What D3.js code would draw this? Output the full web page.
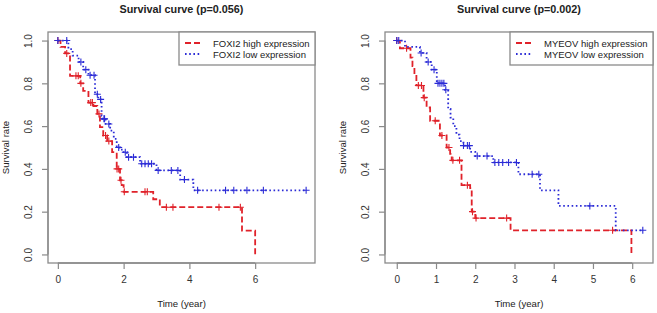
<!DOCTYPE html>
<html>
<head>
<meta charset="utf-8">
<script src="https://cdn.jsdelivr.net/npm/d3@7"></script>
<style>
  body { margin: 0; background: #fff; }
  svg { font-family: "Liberation Sans", Arial, sans-serif; }
</style>
</head>
<body>
<div id="chart"></div>
<script>
// FOXI2 panel
const foxHighT = [0, 0.08, 0.22, 0.37, 0.68, 0.77, 0.93, 1.08, 1.2, 1.28, 1.38, 1.5, 1.65, 1.79, 1.89, 1.94, 2.0, 2.9, 3.1, 5.6, 6.0];
const foxHighS = [1, 0.97, 0.94, 0.835, 0.80, 0.765, 0.71, 0.694, 0.657, 0.595, 0.556, 0.53, 0.478, 0.40, 0.347, 0.324, 0.293, 0.258, 0.221, 0.111, 0];
const foxHighCens = [0.0, 0.27, 0.55, 0.62, 0.7, 1.0, 1.05, 1.25, 1.45, 1.55, 1.8, 1.85, 1.92, 2.02, 2.65, 2.72, 3.3, 3.5, 4.9, 5.55];

const foxLowT = [0, 0.32, 0.45, 0.63, 0.77, 0.93, 1.13, 1.23, 1.33, 1.36, 1.45, 1.59, 1.7, 1.79, 1.9, 2.0, 2.1, 2.5, 3.0, 3.72, 4.12];
const foxLowS = [1, 0.96, 0.93, 0.90, 0.864, 0.838, 0.749, 0.725, 0.648, 0.634, 0.61, 0.579, 0.54, 0.50, 0.49, 0.478, 0.455, 0.424, 0.393, 0.35, 0.30];
const foxLowCens = [0.0, 0.27, 0.7, 0.85, 0.98, 1.1, 1.2, 1.3, 1.4, 1.42, 1.55, 1.85, 2.05, 2.15, 2.3, 2.55, 2.65, 2.75, 2.85, 3.05, 3.45, 3.65, 3.85, 4.25, 5.1, 5.35, 5.75, 6.25, 7.55];

// MYEOV panel
const myHighT = [0, 0.08, 0.35, 0.4, 0.45, 0.5, 0.68, 0.76, 0.85, 1.1, 1.27, 1.36, 1.4, 1.65, 1.87, 1.91, 2.0, 2.9, 5.98];
const myHighS = [1, 0.964, 0.92, 0.88, 0.84, 0.79, 0.733, 0.687, 0.625, 0.556, 0.50, 0.47, 0.44, 0.324, 0.31, 0.20, 0.17, 0.113, 0];
const myHighCens = [0.0, 0.25, 0.55, 0.63, 0.7, 0.98, 1.15, 1.33, 1.43, 1.6, 1.8, 1.93, 2.02, 2.8, 5.5];

const myLowT = [0, 0.21, 0.59, 0.76, 0.89, 1.02, 1.23, 1.31, 1.37, 1.44, 1.52, 1.6, 1.7, 1.87, 2.0, 2.46, 3.1, 3.65, 4.12, 5.58];
const myLowS = [1, 0.97, 0.942, 0.90, 0.864, 0.80, 0.77, 0.68, 0.64, 0.60, 0.56, 0.53, 0.509, 0.48, 0.46, 0.43, 0.375, 0.30, 0.227, 0.113];
const myLowCens = [0.0, 0.05, 0.62, 0.8, 0.95, 1.05, 1.1, 1.15, 1.2, 1.25, 1.7, 1.8, 1.85, 2.05, 2.3, 2.5, 2.6, 2.7, 2.85, 3.05, 3.45, 3.62, 4.92, 6.27];

const yTicks = [0, 0.2, 0.4, 0.6, 0.8, 1.0];

const RED = "#e0222a", BLUE = "#2b2bd6";

const svg = d3.select("#chart").append("svg")
  .attr("width", 657).attr("height", 313);

function drawPanel(p) {
  const x = d3.scaleLinear().domain(p.xDomain).range([p.left, p.right]);
  const y = d3.scaleLinear().domain([-0.04, 1.04]).range([p.bottom, p.top]);
  const g = svg.append("g");

  // title
  g.append("text")
    .attr("x", (p.left + p.right) / 2).attr("y", 13)
    .attr("text-anchor", "middle")
    .attr("font-size", 10.8).attr("font-weight", "bold").attr("fill", "#222")
    .text(p.title);

  // box
  g.append("rect")
    .attr("x", p.left).attr("y", p.top)
    .attr("width", p.right - p.left).attr("height", p.bottom - p.top)
    .attr("fill", "none").attr("stroke", "#8a8a8a").attr("stroke-width", 1.3);

  // x axis
  const xAxis = g.append("g")
    .attr("transform", `translate(0,${p.bottom})`)
    .call(d3.axisBottom(x).tickValues(p.xTicks).tickSize(6).tickPadding(7).tickFormat(d3.format("d")));
  xAxis.select(".domain").remove();
  xAxis.append("line")
    .attr("x1", x(p.xTicks[0])).attr("x2", x(p.xTicks[p.xTicks.length - 1]))
    .attr("stroke", "#8a8a8a").attr("stroke-width", 1.3);
  xAxis.selectAll(".tick line").attr("stroke", "#8a8a8a").attr("stroke-width", 1.2);
  xAxis.selectAll(".tick text").attr("font-size", 10).attr("fill", "#333")
    .attr("font-family", "Liberation Sans, Arial, sans-serif");

  // y axis
  const yAxis = g.append("g")
    .attr("transform", `translate(${p.left},0)`)
    .call(d3.axisLeft(y).tickValues(yTicks).tickSize(6).tickFormat(d3.format(".1f")));
  yAxis.select(".domain").remove();
  yAxis.append("line")
    .attr("y1", y(0)).attr("y2", y(1))
    .attr("stroke", "#8a8a8a").attr("stroke-width", 1.3);
  yAxis.selectAll(".tick line").attr("stroke", "#8a8a8a").attr("stroke-width", 1.2);
  yAxis.selectAll(".tick text")
    .attr("x", null).attr("dy", null)
    .attr("text-anchor", "middle")
    .attr("transform", "translate(-16,0) rotate(-90)")
    .attr("font-size", 10).attr("fill", "#333")
    .attr("font-family", "Liberation Sans, Arial, sans-serif");

  // axis labels
  g.append("text")
    .attr("x", (p.left + p.right) / 2).attr("y", 307)
    .attr("text-anchor", "middle").attr("font-size", 9.6).attr("fill", "#222")
    .text("Time (year)");
  g.append("text")
    .attr("transform", `translate(${p.left - 39},${(p.top + p.bottom) / 2}) rotate(-90)`)
    .attr("text-anchor", "middle").attr("font-size", 9.6).attr("fill", "#222")
    .text("Survival rate");

  // curves
  p.series.forEach(s => {
    const pts = s.t.map((t, i) => [t, s.s[i]]);
    const lastT = Math.max(s.t[s.t.length - 1], d3.max(s.cens));
    pts.push([lastT, s.s[s.s.length - 1]]);
    const line = d3.line().x(d => x(d[0])).y(d => y(d[1])).curve(d3.curveStepAfter);
    g.append("path")
      .attr("d", line(pts))
      .attr("fill", "none").attr("stroke", s.color)
      .attr("stroke-width", 1.8)
      .attr("stroke-dasharray", s.dash === "dash" ? "6,3" : "1.6,2.6");

    const surv = t => {
      let v = 1;
      s.t.forEach((tt, i) => { if (tt <= t) v = s.s[i]; });
      return v;
    };
    g.append("g").selectAll("path")
      .data(s.cens)
      .join("path")
      .attr("d", d => {
        const cx = x(d), cy = y(surv(d));
        return `M${cx - 3.5},${cy}H${cx + 3.5}M${cx},${cy - 3.5}V${cy + 3.5}`;
      })
      .attr("stroke", s.color).attr("stroke-width", 1.1).attr("fill", "none");
  });

  // legend
  const lg = g.append("g");
  lg.append("rect")
    .attr("x", p.legendX).attr("y", p.top)
    .attr("width", p.right - p.legendX).attr("height", 33)
    .attr("fill", "#fff").attr("stroke", "#8a8a8a").attr("stroke-width", 1.3);
  p.series.forEach((s, i) => {
    const ly = p.top + 11 + i * 11;
    lg.append("line")
      .attr("x1", p.legendX + 6).attr("x2", p.legendX + 22)
      .attr("y1", ly).attr("y2", ly)
      .attr("stroke", s.color).attr("stroke-width", 1.8)
      .attr("stroke-dasharray", s.dash === "dash" ? "6,3" : "1.6,2.6");
    lg.append("text")
      .attr("x", p.legendX + 34).attr("y", ly + 3.5)
      .attr("font-size", 9.5).attr("fill", "#222")
      .text(s.label);
  });
}

drawPanel({
  title: "Survival curve (p=0.056)",
  left: 48, right: 315, top: 32, bottom: 263,
  xDomain: [-0.3, 7.82], xTicks: [0, 2, 4, 6],
  legendX: 179,
  series: [
    { label: "FOXI2 high expression", t: foxHighT, s: foxHighS, cens: foxHighCens, color: RED, dash: "dash" },
    { label: "FOXI2 low expression", t: foxLowT, s: foxLowS, cens: foxLowCens, color: BLUE, dash: "dot" }
  ]
});

drawPanel({
  title: "Survival curve (p=0.002)",
  left: 385, right: 653, top: 32, bottom: 263,
  xDomain: [-0.3, 6.53], xTicks: [0, 1, 2, 3, 4, 5, 6],
  legendX: 510,
  series: [
    { label: "MYEOV high expression", t: myHighT, s: myHighS, cens: myHighCens, color: RED, dash: "dash" },
    { label: "MYEOV low expression", t: myLowT, s: myLowS, cens: myLowCens, color: BLUE, dash: "dot" }
  ]
});
</script>
</body>
</html>
